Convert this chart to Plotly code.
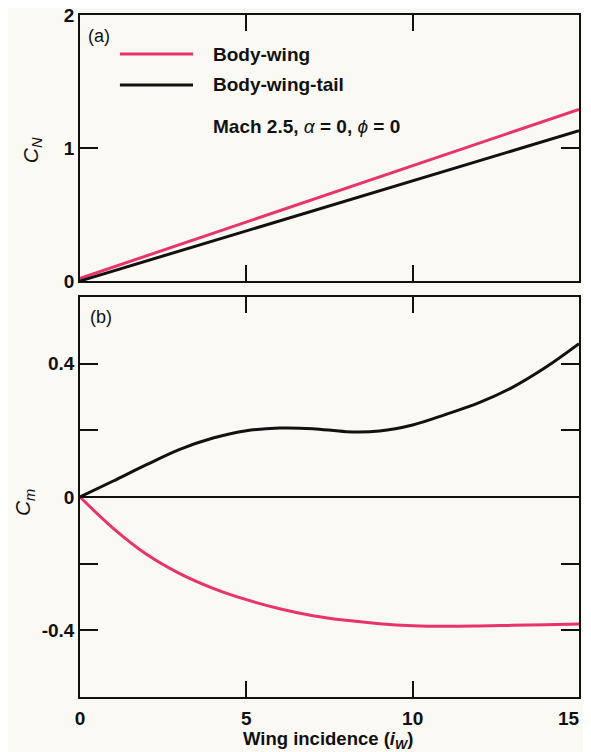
import plotly.graph_objects as go
from plotly.subplots import make_subplots

# (a) normal force coefficient
cn_x = [0, 15]
cn_body_wing = [0.02, 1.29]
cn_body_wing_tail = [0.0, 1.13]

# (b) pitching moment coefficient
cm_x = [0, 1, 2, 3, 4, 5, 6, 7, 8, 9, 10, 11, 12, 13, 14, 15]
cm_body_wing = [0, -0.094, -0.172, -0.23, -0.274, -0.308, -0.335, -0.356, -0.37,
                -0.38, -0.386, -0.388, -0.387, -0.385, -0.383, -0.381]
cm_body_wing_tail = [0, 0.048, 0.097, 0.143, 0.177, 0.199, 0.207, 0.205, 0.196,
                     0.198, 0.216, 0.248, 0.283, 0.329, 0.389, 0.46]

x_ticks = [0, 5, 10, 15]
x_ticktext = ["0", "5", "10", "15" + "\u00a0" * 4]
cn_ticks = [0, 1, 2]
cm_ticks = [-0.4, -0.2, 0, 0.2, 0.4]
cm_ticktext = ["-0.4", "", "0", "", "0.4"]

PINK = "#e8336b"
BLACK = "#111111"
BG = "#fbf9f4"
FONT = "Liberation Sans"

fig = make_subplots(rows=2, cols=1, vertical_spacing=0.0)

fig.add_trace(go.Scatter(x=cn_x, y=cn_body_wing, mode="lines",
                         line=dict(color=PINK, width=3)), row=1, col=1)
fig.add_trace(go.Scatter(x=cn_x, y=cn_body_wing_tail, mode="lines",
                         line=dict(color=BLACK, width=3)), row=1, col=1)
fig.add_trace(go.Scatter(x=cm_x, y=cm_body_wing, mode="lines",
                         line=dict(color=PINK, width=3, shape="spline", smoothing=1)),
              row=2, col=1)
fig.add_trace(go.Scatter(x=cm_x, y=cm_body_wing_tail, mode="lines",
                         line=dict(color=BLACK, width=3, shape="spline", smoothing=1)),
              row=2, col=1)

axis_common = dict(showline=True, linecolor=BLACK, linewidth=1.5, mirror="allticks",
                   ticks="inside", tickcolor=BLACK, tickwidth=1.5, showgrid=False,
                   zeroline=False, automargin=False, ticklabeloverflow="allow",
                   tickfont=dict(family=FONT, size=19, color=BLACK, weight="bold"))

fig.update_xaxes(range=[0, 15], tickvals=x_ticks, ticktext=x_ticktext, ticklen=16,
                 ticklabelstandoff=3, **axis_common)
fig.update_xaxes(showticklabels=False, row=1, col=1)

fig.update_yaxes(range=[0, 2], tickvals=cn_ticks, ticklen=18, domain=[0.61, 1.0],
                 ticklabelstandoff=0, **axis_common, row=1, col=1)
fig.update_yaxes(range=[-0.6, 0.6], tickvals=cm_ticks, ticktext=cm_ticktext, ticklen=18,
                 domain=[0.0, 0.5865], ticklabelstandoff=0, **axis_common, row=2, col=1)
fig.update_yaxes(zeroline=True, zerolinecolor=BLACK, zerolinewidth=1.5, row=2, col=1)

# axis titles
fig.add_annotation(xref="paper", yref="paper", x=0.497, y=-0.063,
                   text="Wing incidence (<i>i<sub>W</sub></i>)", showarrow=False,
                   xanchor="center", yanchor="middle",
                   font=dict(family=FONT, size=18.5, color=BLACK, weight="bold"))
fig.add_annotation(xref="paper", yref="paper", x=-0.096, y=0.802, textangle=-90,
                   text="<i>C<sub>N</sub></i>", showarrow=False,
                   xanchor="center", yanchor="middle",
                   font=dict(family=FONT, size=21, color=BLACK))
fig.add_annotation(xref="paper", yref="paper", x=-0.112, y=0.2845, textangle=-90,
                   text="<i>C<sub>m</sub></i>", showarrow=False,
                   xanchor="center", yanchor="middle",
                   font=dict(family=FONT, size=21, color=BLACK))

# panel labels
fig.add_annotation(xref="x domain", yref="y domain", x=0.012, y=0.921, text="(a)",
                   showarrow=False, xanchor="left", yanchor="middle",
                   font=dict(family=FONT, size=18, color=BLACK))
fig.add_annotation(xref="x2 domain", yref="y2 domain", x=0.016, y=0.949, text="(b)",
                   showarrow=False, xanchor="left", yanchor="middle",
                   font=dict(family=FONT, size=18, color=BLACK))

# legend drawn inside panel (a)
leg = [("Body-wing", PINK, 0.853), ("Body-wing-tail", BLACK, 0.737)]
for name, color, yy in leg:
    fig.add_shape(type="line", xref="x domain", yref="y domain",
                  x0=0.08, x1=0.2265, y0=yy, y1=yy, line=dict(color=color, width=3))
    fig.add_annotation(xref="x domain", yref="y domain", x=0.263, y=yy, text=name,
                       showarrow=False, xanchor="left", yanchor="middle",
                       font=dict(family=FONT, size=19, color=BLACK, weight="bold"))
fig.add_annotation(xref="x domain", yref="y domain", x=0.263, y=0.579,
                   text="Mach 2.5, <span style='font-weight:normal'><i>α</i></span> = 0, "
                        "<span style='font-weight:normal'><i>ϕ</i></span> = 0",
                   showarrow=False, xanchor="left", yanchor="middle",
                   font=dict(family=FONT, size=19, color=BLACK, weight="bold"))

# the page body keeps its default 8px margin, so the figure is sized to fit the window
fig.update_layout(width=583, height=744, showlegend=False,
                  paper_bgcolor=BG, plot_bgcolor=BG,
                  margin=dict(l=72, r=12, t=7, b=55),
                  font=dict(family=FONT, color=BLACK))

fig.write_html("out.html")
